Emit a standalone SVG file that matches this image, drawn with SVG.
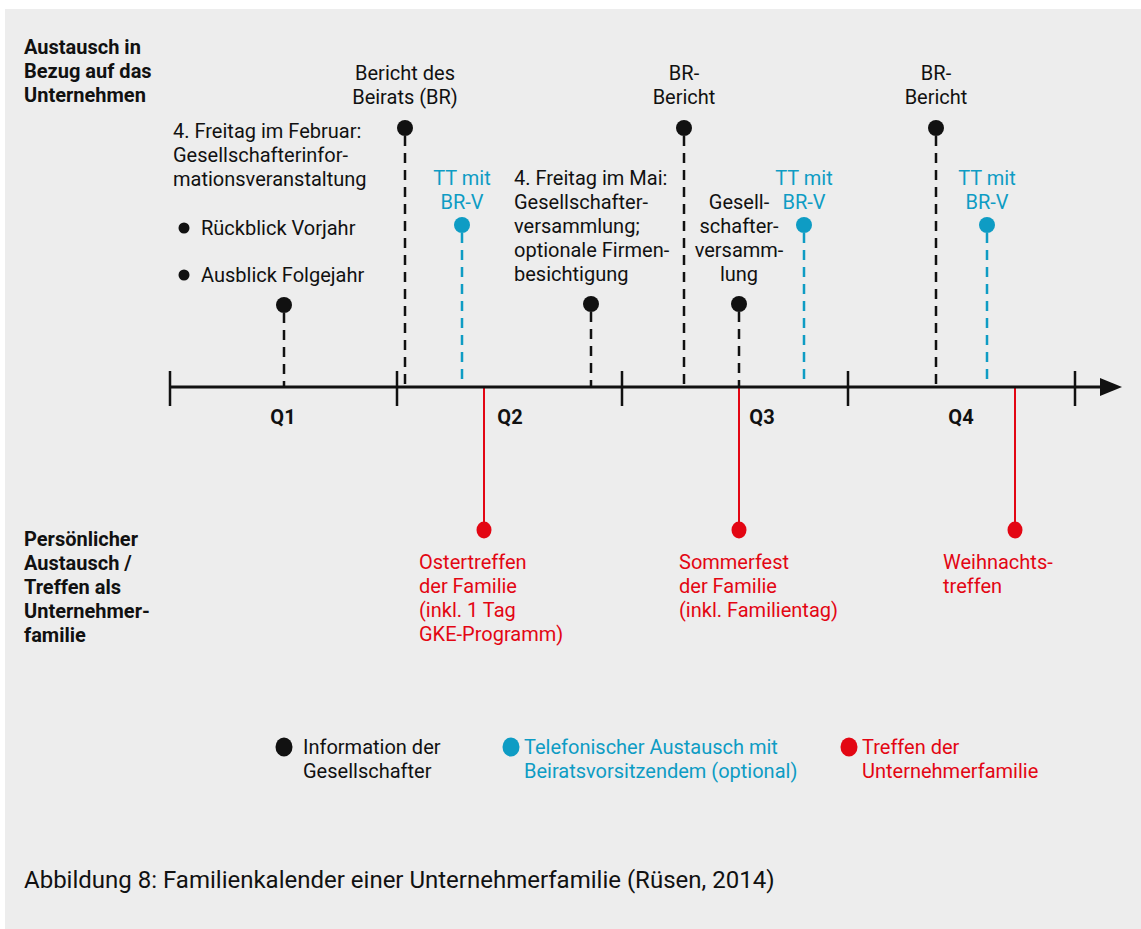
<svg xmlns="http://www.w3.org/2000/svg" width="1141" height="929" viewBox="0 0 1141 929">
<defs>
<style>
text{font-family:"Roboto","Liberation Sans",sans-serif;font-size:20px;fill:#111}
.b{font-weight:bold}
.blue{fill:#0e9cc4}
.red{fill:#e30613}
.m{text-anchor:middle}
.dk{stroke:#111;stroke-width:2.5;stroke-dasharray:10 7;fill:none}
.db{stroke:#0e9cc4;stroke-width:2.5;stroke-dasharray:10 7;fill:none}
.rl{stroke:#e30613;stroke-width:2;fill:none}
</style>
</defs>
<rect x="0" y="0" width="1141" height="929" fill="#fff"/>
<rect x="5" y="9" width="1136" height="920" fill="#ededed"/>

<g id="labels-left">
<text class="b" x="24" y="54">Austausch in</text>
<text class="b" x="24" y="78">Bezug auf das</text>
<text class="b" x="24" y="102">Unternehmen</text>
<text class="b" x="24" y="546">Persönlicher</text>
<text class="b" x="24" y="570">Austausch /</text>
<text class="b" x="24" y="594">Treffen als</text>
<text class="b" x="24" y="618">Unternehmer-</text>
<text class="b" x="24" y="642">familie</text>
</g>

<g id="connectors">
<path class="dk" d="M284,313 V387"/>
<path class="dk" d="M405,136 V387"/>
<path class="dk" d="M591,312 V387"/>
<path class="dk" d="M684,136 V387"/>
<path class="dk" d="M739,312 V387"/>
<path class="dk" d="M936,136 V387"/>
<path class="db" d="M462,233 V387"/>
<path class="db" d="M804,233 V387"/>
<path class="db" d="M987,233 V387"/>
<path class="rl" d="M484,388 V530"/>
<path class="rl" d="M739,388 V530"/>
<path class="rl" d="M1015,388 V530"/>
</g>

<g id="axis">
<path d="M170,387 H1104" stroke="#111" stroke-width="3"/>
<path d="M1100,378 L1122,387 L1100,396 z" fill="#111"/>
<path d="M170,371 V406 M397,371 V406 M622,371 V406 M848,371 V406 M1075,371 V406" stroke="#111" stroke-width="2.5"/>
<text class="b m" x="283" y="424">Q1</text>
<text class="b m" x="510" y="424">Q2</text>
<text class="b m" x="762" y="424">Q3</text>
<text class="b m" x="961" y="424">Q4</text>
</g>

<g id="q1-info">
<circle cx="284" cy="305" r="8" fill="#111"/>
<text x="173" y="138">4. Freitag im Februar:</text>
<text x="173" y="162">Gesellschafterinfor-</text>
<text x="173" y="186">mationsveranstaltung</text>
<circle cx="184" cy="228" r="5.5" fill="#111"/>
<text x="201" y="235">Rückblick Vorjahr</text>
<circle cx="184" cy="275" r="5.5" fill="#111"/>
<text x="201" y="282">Ausblick Folgejahr</text>
</g>

<g id="br-bericht-1">
<circle cx="405" cy="128" r="8" fill="#111"/>
<text class="m" x="405" y="80">Bericht des</text>
<text class="m" x="405" y="104">Beirats (BR)</text>
</g>

<g id="tt-1">
<circle cx="462" cy="225" r="8" fill="#0e9cc4"/>
<text class="m blue" x="462" y="185">TT mit</text>
<text class="m blue" x="462" y="209">BR-V</text>
</g>

<g id="gv-mai">
<circle cx="591" cy="304" r="8" fill="#111"/>
<text x="514" y="185">4. Freitag im Mai:</text>
<text x="514" y="209">Gesellschafter-</text>
<text x="514" y="233">versammlung;</text>
<text x="514" y="257">optionale Firmen-</text>
<text x="514" y="281">besichtigung</text>
</g>

<g id="br-bericht-2">
<circle cx="684" cy="128" r="8" fill="#111"/>
<text class="m" x="684" y="80">BR-</text>
<text class="m" x="684" y="104">Bericht</text>
</g>

<g id="gv-2">
<circle cx="739" cy="304" r="8" fill="#111"/>
<text class="m" x="739" y="209">Gesell-</text>
<text class="m" x="739" y="233">schafter-</text>
<text class="m" x="739" y="257">versamm-</text>
<text class="m" x="739" y="281">lung</text>
</g>

<g id="tt-2">
<circle cx="804" cy="225" r="8" fill="#0e9cc4"/>
<text class="m blue" x="804" y="185">TT mit</text>
<text class="m blue" x="804" y="209">BR-V</text>
</g>

<g id="br-bericht-3">
<circle cx="936" cy="128" r="8" fill="#111"/>
<text class="m" x="936" y="80">BR-</text>
<text class="m" x="936" y="104">Bericht</text>
</g>

<g id="tt-3">
<circle cx="987" cy="225" r="8" fill="#0e9cc4"/>
<text class="m blue" x="987" y="185">TT mit</text>
<text class="m blue" x="987" y="209">BR-V</text>
</g>

<g id="ostertreffen">
<ellipse cx="484" cy="530" rx="7.5" ry="8.5" fill="#e30613"/>
<text class="red" x="419" y="569">Ostertreffen</text>
<text class="red" x="419" y="593">der Familie</text>
<text class="red" x="419" y="617">(inkl. 1 Tag</text>
<text class="red" x="419" y="641">GKE-Programm)</text>
</g>

<g id="sommerfest">
<ellipse cx="739" cy="530" rx="7.5" ry="8.5" fill="#e30613"/>
<text class="red" x="679" y="569">Sommerfest</text>
<text class="red" x="679" y="593">der Familie</text>
<text class="red" x="679" y="617">(inkl. Familientag)</text>
</g>

<g id="weihnachtstreffen">
<ellipse cx="1015" cy="530" rx="7.5" ry="8.5" fill="#e30613"/>
<text class="red" x="943" y="569">Weihnachts-</text>
<text class="red" x="943" y="593">treffen</text>
</g>

<g id="legend">
<ellipse cx="284" cy="747" rx="8.5" ry="9.5" fill="#111"/>
<text x="303" y="754">Information der</text>
<text x="303" y="778">Gesellschafter</text>
<ellipse cx="511" cy="747" rx="8.5" ry="9.5" fill="#0e9cc4"/>
<text class="blue" x="524" y="754">Telefonischer Austausch mit</text>
<text class="blue" x="524" y="778">Beiratsvorsitzendem (optional)</text>
<ellipse cx="849" cy="747" rx="8.5" ry="9.5" fill="#e30613"/>
<text class="red" x="862" y="754">Treffen der</text>
<text class="red" x="862" y="778">Unternehmerfamilie</text>
</g>

<text x="24" y="888" style="font-size:24px">Abbildung 8: Familienkalender einer Unternehmerfamilie (Rüsen, 2014)</text>
</svg>
